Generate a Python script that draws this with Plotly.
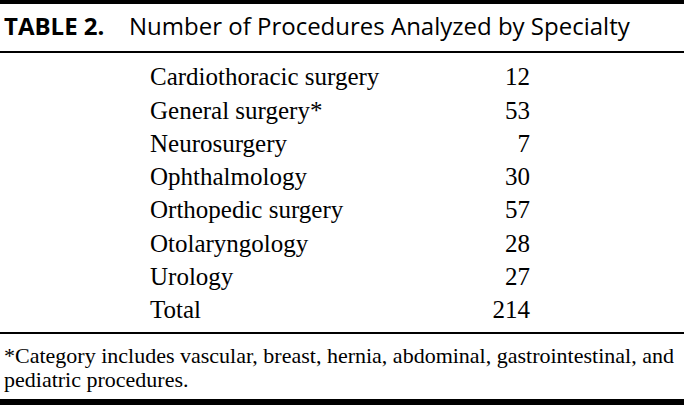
import plotly.graph_objects as go

# dados da tabela
especialidades = ["Cardiothoracic surgery", "General surgery*", "Neurosurgery",
                  "Ophthalmology", "Orthopedic surgery", "Otolaryngology",
                  "Urology", "Total"]
procedimentos = [12, 53, 7, 30, 57, 28, 27, 214]

titulo_num = "TABLE 2."
titulo = "Number of Procedures Analyzed by Specialty"
nota = ["*Category includes vascular, breast, hernia, abdominal, gastrointestinal, and",
        "pediatric procedures."]

W, H = 684, 405
primeira_linha, altura_linha = 79, 33.3
x_rotulo, x_valor = 150, 530
serif = "Liberation Serif, Times New Roman, serif"
sans = "Open Sans, sans-serif"

linhas_y = [primeira_linha + i * altura_linha for i in range(len(especialidades))]

fig = go.Figure()

# coluna das especialidades
fig.add_trace(go.Scatter(
    x=[x_rotulo] * len(especialidades), y=linhas_y,
    text=especialidades, mode="text", textposition="middle right",
    textfont=dict(family=serif, size=25, color="black"),
    hoverinfo="skip", showlegend=False
))

# coluna dos números (alinhados à direita)
fig.add_trace(go.Scatter(
    x=[x_valor] * len(procedimentos), y=linhas_y,
    text=[str(v) for v in procedimentos], mode="text", textposition="middle left",
    textfont=dict(family=serif, size=25, color="black"),
    hoverinfo="skip", showlegend=False
))

# título
fig.add_annotation(x=2, y=25, text="<b>" + titulo_num + "</b>", showarrow=False,
                   xanchor="left", yanchor="middle",
                   font=dict(family=sans, size=24, color="black"))
fig.add_annotation(x=127, y=25, text=titulo, showarrow=False,
                   xanchor="left", yanchor="middle",
                   font=dict(family=sans, size=24, color="black"))

# nota de rodapé
for i, linha in enumerate(nota):
    fig.add_annotation(x=2, y=355 + i * 24, text=linha, showarrow=False,
                       xanchor="left", yanchor="middle",
                       font=dict(family=serif, size=22, color="black"))

# linhas horizontais da tabela
for y0, y1 in [(0, 4), (51, 53), (332, 334), (399, 405)]:
    fig.add_shape(type="rect", x0=0, x1=W, y0=y0, y1=y1,
                  fillcolor="black", line=dict(width=0), layer="above")

fig.update_layout(
    width=W, height=H,
    margin=dict(t=0, b=0, l=0, r=0),
    plot_bgcolor="white", paper_bgcolor="white",
    xaxis=dict(range=[0, W], visible=False, fixedrange=True),
    yaxis=dict(range=[H, 0], visible=False, fixedrange=True),
)

# tira a margem padrão do body para a figura ocupar a janela inteira
fig.write_html("out.html", config=dict(displayModeBar=False),
               post_script="document.body.style.margin='0';document.body.style.overflow='hidden';")
